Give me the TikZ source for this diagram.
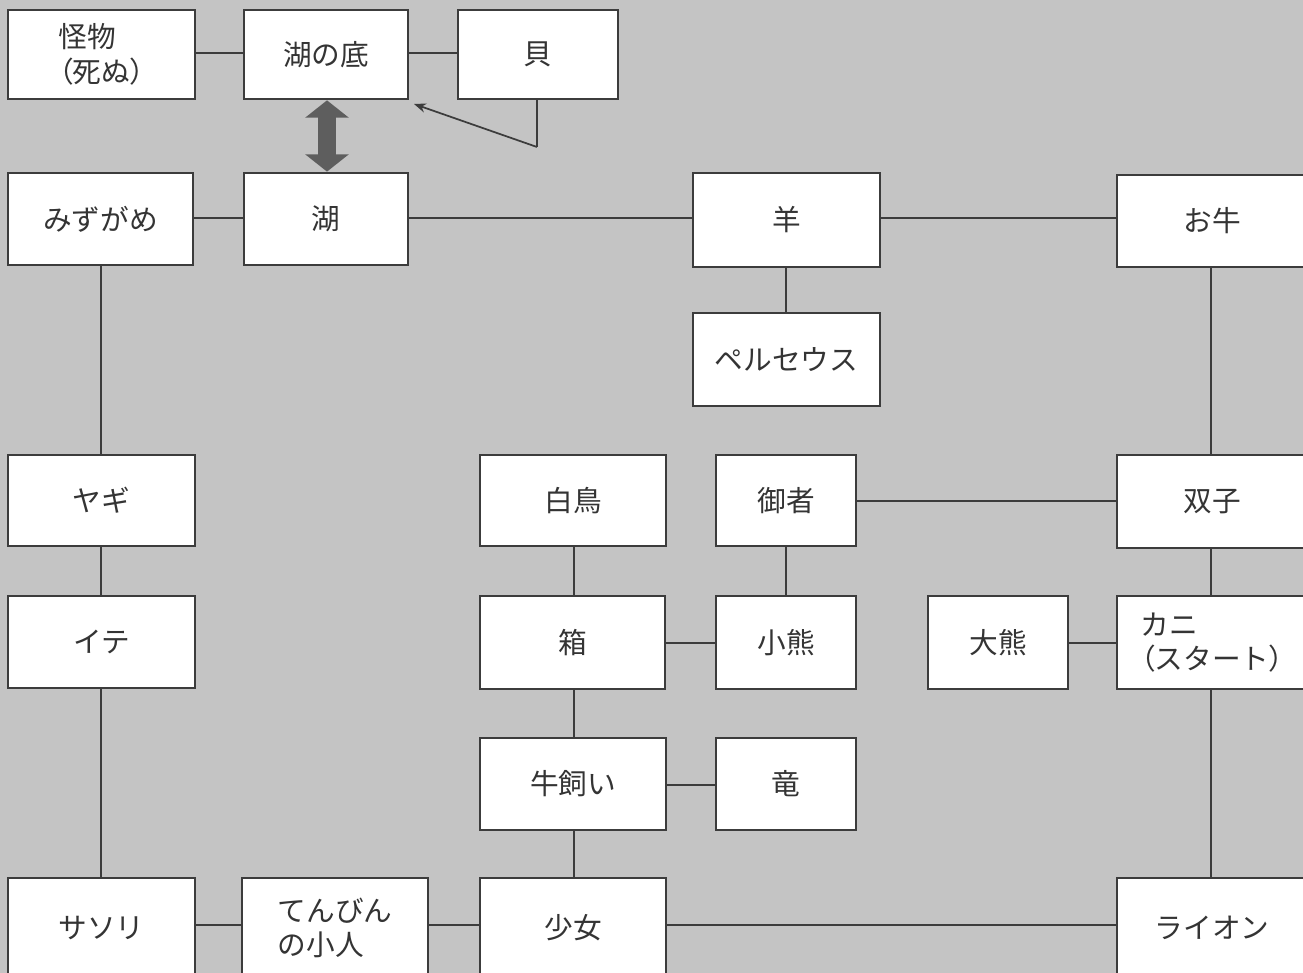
\documentclass[tikz,border=0pt]{standalone}
\usepackage{fontspec}
\newfontfamily\jp{Noto Sans CJK JP}
\newfontfamily\jpp[RawFeature=+palt]{Noto Sans CJK JP}
\newcommand\lpar{{\jpp （}}
\newcommand\rpar{{\jpp ）}}
\usetikzlibrary{arrows.meta}
\definecolor{bgc}{HTML}{C4C4C4}
\definecolor{edge}{HTML}{3C3C3C}
\definecolor{txt}{HTML}{343434}
\definecolor{dbl}{HTML}{5E5E5E}
\newcommand\mybox[6]{\node[box,minimum width={(#3-#2)*0.75pt},minimum height={(#5-#4)*0.75pt}] (#1) at ({(#2+#3)/2},{(#4+#5)/2}) {#6};}
\begin{document}
\begin{tikzpicture}[x=0.75pt,y=-0.75pt,
  box/.style={draw=edge,line width=1.6pt,fill=white,inner sep=0pt,outer sep=0pt,text=txt,
    font=\jp\fontsize{21.5pt}{26pt}\selectfont,align=left},
  link/.style={draw=edge,line width=1.5pt},
  arr/.style={draw=edge,line width=1.3pt,-{Stealth[length=9pt,width=7pt]}},
  dblarrow/.style={draw=dbl,line width=13pt,{Triangle[width=32pt,length=13pt]}-{Triangle[width=32pt,length=13pt]}}]
\useasboundingbox (0,0) rectangle (1303,973);
\clip (0,0) rectangle (1303,973);
\fill[bgc] (0,0) rectangle (1303,973);
% row 1
\mybox{kaibutsu}{8}{195}{10}{99}{怪物\\\lpar 死ぬ\rpar}
\mybox{soko}{244}{408}{10}{99}{湖の底}
\mybox{kai}{458}{618}{10}{99}{貝}
% row 2
\mybox{mizugame}{8}{193}{173}{265}{みずがめ}
\mybox{mizuumi}{244}{408}{173}{265}{湖}
\mybox{hitsuji}{693}{880}{173}{267}{羊}
\mybox{oushi}{1117}{1307}{175}{267}{お牛}
\mybox{perseus}{693}{880}{313}{406}{ペルセウス}
% row 3
\mybox{yagi}{8}{195}{455}{546}{ヤギ}
\mybox{hakucho}{480}{666}{455}{546}{白鳥}
\mybox{gyosha}{716}{856}{455}{546}{御者}
\mybox{futago}{1117}{1307}{455}{548}{双子}
% row 4
\mybox{ite}{8}{195}{596}{688}{イテ}
\mybox{hako}{480}{665}{596}{689}{箱}
\mybox{koguma}{716}{856}{596}{689}{小熊}
\mybox{oguma}{928}{1068}{596}{689}{大熊}
\mybox{kani}{1117}{1307}{596}{689}{カニ\\\lpar スタート\rpar}
% row 5
\mybox{ushikai}{480}{666}{738}{830}{牛飼い}
\mybox{ryu}{716}{856}{738}{830}{竜}
% row 6
\mybox{sasori}{8}{195}{878}{978}{サソリ}
\mybox{tenbin}{242}{428}{878}{978}{てんびん\\の小人}
\mybox{shojo}{480}{666}{878}{978}{少女}
\mybox{lion}{1117}{1307}{878}{978}{ライオン}
% connectors
\draw[link] (kaibutsu.east |- 0,53) -- (soko.west |- 0,53);
\draw[link] (soko.east |- 0,53) -- (kai.west |- 0,53);
\coordinate (kaiturn) at (537,147);
\coordinate (kaitip) at (414,104);
\draw[link] (kai.south -| kaiturn) -- (kaiturn);
\draw[arr] (kaiturn) -- (kaitip);
\draw[dblarrow] ([yshift=-1pt]soko.south -| 327,0) -- ([yshift=1pt]mizuumi.north -| 327,0);
\draw[link] (mizugame.east |- 0,218) -- (mizuumi.west |- 0,218);
\draw[link] (mizuumi.east |- 0,218) -- (hitsuji.west |- 0,218);
\draw[link] (hitsuji.east |- 0,218) -- (oushi.west |- 0,218);
\draw[link] (hitsuji.south -| 786,0) -- (perseus.north -| 786,0);
\draw[link] (mizugame.south -| 101,0) -- (yagi.north -| 101,0);
\draw[link] (oushi.south -| 1211,0) -- (futago.north -| 1211,0);
\draw[link] (gyosha.east |- 0,501) -- (futago.west |- 0,501);
\draw[link] (hakucho.south -| 574,0) -- (hako.north -| 574,0);
\draw[link] (gyosha.south -| 786,0) -- (koguma.north -| 786,0);
\draw[link] (yagi.south -| 101,0) -- (ite.north -| 101,0);
\draw[link] (hako.east |- 0,643) -- (koguma.west |- 0,643);
\draw[link] (oguma.east |- 0,643) -- (kani.west |- 0,643);
\draw[link] (futago.south -| 1211,0) -- (kani.north -| 1211,0);
\draw[link] (ite.south -| 101,0) -- (sasori.north -| 101,0);
\draw[link] (hako.south -| 574,0) -- (ushikai.north -| 574,0);
\draw[link] (ushikai.east |- 0,785) -- (ryu.west |- 0,785);
\draw[link] (ushikai.south -| 574,0) -- (shojo.north -| 574,0);
\draw[link] (kani.south -| 1211,0) -- (lion.north -| 1211,0);
\draw[link] (sasori.east |- 0,925) -- (tenbin.west |- 0,925);
\draw[link] (tenbin.east |- 0,925) -- (shojo.west |- 0,925);
\draw[link] (shojo.east |- 0,925) -- (lion.west |- 0,925);
\end{tikzpicture}
\end{document}
